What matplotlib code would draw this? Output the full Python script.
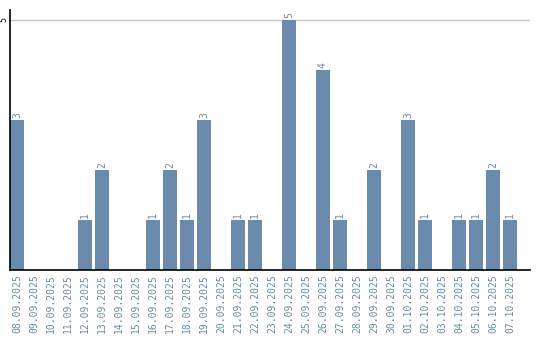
import matplotlib
matplotlib.use("Agg")
import matplotlib.pyplot as plt

# Data
dates = [
    "08.09.2025", "09.09.2025", "10.09.2025", "11.09.2025", "12.09.2025",
    "13.09.2025", "14.09.2025", "15.09.2025", "16.09.2025", "17.09.2025",
    "18.09.2025", "19.09.2025", "20.09.2025", "21.09.2025", "22.09.2025",
    "23.09.2025", "24.09.2025", "25.09.2025", "26.09.2025", "27.09.2025",
    "28.09.2025", "29.09.2025", "30.09.2025", "01.10.2025", "02.10.2025",
    "03.10.2025", "04.10.2025", "05.10.2025", "06.10.2025", "07.10.2025",
]
counts = [3, 0, 0, 0, 1, 2, 0, 0, 1, 2, 1, 3, 0, 1, 1,
          0, 5, 0, 4, 1, 0, 2, 0, 3, 1, 0, 1, 1, 2, 1]

bar_color = "#6a8bab"
text_color = "#6a8bab"

fig = plt.figure(figsize=(5.4, 3.4), dpi=100)
ax = fig.add_axes([10 / 540, 1 - 270 / 340, 520 / 540, 260 / 340])

x = range(len(dates))
bars = ax.bar(x, counts, width=0.82, color=bar_color, zorder=2)

# value labels above non-zero bars
for xi, v in zip(x, counts):
    if v > 0:
        ax.text(xi, v + 0.04, str(v), rotation=90, ha="center", va="bottom",
                color=text_color, fontsize=7, family="DejaVu Sans Mono")

ax.set_xlim(-0.41, 30.18)
ax.set_ylim(0, 5.2)
ax.set_xticks(list(x))
ax.set_xticklabels(dates, rotation=90, color=text_color, fontsize=7,
                   family="DejaVu Sans Mono")
ax.set_yticks([5])
ax.set_yticklabels(["5"], rotation=90, va="center", fontsize=6,
                   family="DejaVu Sans Mono")
ax.tick_params(axis="x", length=0, pad=3)
ax.tick_params(axis="y", length=0, pad=1)

ax.axhline(5, color="#c8c8c8", linewidth=1, zorder=1)

for side in ["top", "right"]:
    ax.spines[side].set_visible(False)
ax.spines["left"].set_linewidth(1.2)
ax.spines["bottom"].set_linewidth(1.2)

plt.savefig("out.png", dpi=100)
